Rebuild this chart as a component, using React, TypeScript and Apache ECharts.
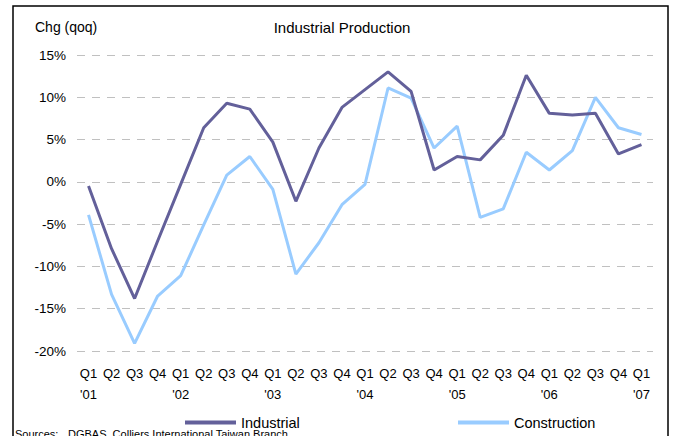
import React, { useEffect, useRef } from "react";
import * as echarts from "echarts";

// Quarterly axis: quarter on first line, year under each Q1
const quarters = [
  "Q1", "Q2", "Q3", "Q4",
  "Q1", "Q2", "Q3", "Q4",
  "Q1", "Q2", "Q3", "Q4",
  "Q1", "Q2", "Q3", "Q4",
  "Q1", "Q2", "Q3", "Q4",
  "Q1", "Q2", "Q3", "Q4",
  "Q1",
];
const years = [
  "'01", "", "", "",
  "'02", "", "", "",
  "'03", "", "", "",
  "'04", "", "", "",
  "'05", "", "", "",
  "'06", "", "", "",
  "'07",
];

// Quarter-on-quarter change, %
const industrial = [
  -0.5, -7.9, -13.8, -7.0,
  -0.3, 6.4, 9.3, 8.6,
  4.7, -2.3, 4.0, 8.8,
  10.9, 13.0, 10.7, 1.4,
  3.0, 2.6, 5.5, 12.6,
  8.1, 7.9, 8.1, 3.3,
  4.4,
];
const construction = [
  -3.9, -13.3, -19.1, -13.5,
  -11.1, -5.1, 0.8, 3.0,
  -0.9, -10.9, -7.2, -2.7,
  -0.3, 11.1, 9.9, 4.0,
  6.6, -4.2, -3.2, 3.5,
  1.4, 3.7, 10.0, 6.4,
  5.6,
];

const yTicks = { min: -20, max: 15, interval: 5 };

const FONT = "'Liberation Sans', Arial, sans-serif";

export default function App() {
  const ref = useRef<HTMLDivElement>(null);

  useEffect(() => {
    if (!ref.current) return;
    const chart = echarts.init(ref.current, null, { renderer: "svg" });
    const categories = quarters.map((q, i) => `${q}\n${years[i]}`);

    const legendBase = {
      top: 410,
      icon: "rect",
      itemWidth: 51,
      itemHeight: 4,
      textStyle: { fontSize: 14.5, color: "#000", fontFamily: FONT },
    };

    chart.setOption({
      animation: false,
      backgroundColor: "#ffffff",
      textStyle: { fontFamily: FONT },
      grid: { left: 77, right: 22, top: 55, bottom: 85 },
      xAxis: {
        type: "category",
        data: categories,
        boundaryGap: true,
        axisLine: { show: false },
        axisTick: { show: false },
        axisLabel: {
          interval: 0,
          margin: 12,
          fontSize: 13,
          lineHeight: 21,
          color: "#000",
          fontFamily: FONT,
        },
      },
      yAxis: {
        type: "value",
        min: yTicks.min,
        max: yTicks.max,
        interval: yTicks.interval,
        axisLine: { show: false },
        axisTick: { show: false },
        axisLabel: {
          formatter: "{value}%",
          fontSize: 13.5,
          margin: 11,
          color: "#000",
          fontFamily: FONT,
        },
        splitLine: {
          lineStyle: { color: "#c0c0c0", type: [8, 7], width: 1 },
        },
      },
      legend: [
        { ...legendBase, data: ["Industrial"], left: 180 },
        { ...legendBase, data: ["Construction"], left: 453 },
      ],
      series: [
        {
          name: "Industrial",
          type: "line",
          data: industrial,
          symbol: "none",
          color: "#63609a",
          lineStyle: { width: 3, color: "#63609a" },
          z: 3,
        },
        {
          name: "Construction",
          type: "line",
          data: construction,
          symbol: "none",
          color: "#99ccff",
          lineStyle: { width: 3, color: "#99ccff" },
          z: 2,
        },
      ],
      graphic: [
        {
          type: "rect",
          shape: { x: 13, y: 6, width: 655, height: 445 },
          style: { fill: "none", stroke: "#000", lineWidth: 1.5 },
          silent: true,
        },
        {
          type: "text",
          x: 35,
          y: 27,
          style: {
            text: "Chg (qoq)",
            font: `14px ${FONT}`,
            fill: "#000",
            textVerticalAlign: "middle",
          },
        },
        {
          type: "text",
          x: 342,
          y: 27,
          style: {
            text: "Industrial Production",
            font: `15px ${FONT}`,
            fill: "#000",
            textAlign: "center",
            textVerticalAlign: "middle",
          },
        },
        {
          type: "text",
          x: 15,
          y: 428,
          style: {
            text: "Sources:",
            font: `11px ${FONT}`,
            fill: "#000",
          },
        },
        {
          type: "text",
          x: 68,
          y: 428,
          style: {
            text: "DGBAS, Colliers International Taiwan Branch",
            font: `11px ${FONT}`,
            fill: "#000",
          },
        },
      ],
    });

    return () => chart.dispose();
  }, []);

  return (
    <div
      ref={ref}
      style={{ position: "fixed", left: 0, top: 0, width: 675, height: 436 }}
    />
  );
}
